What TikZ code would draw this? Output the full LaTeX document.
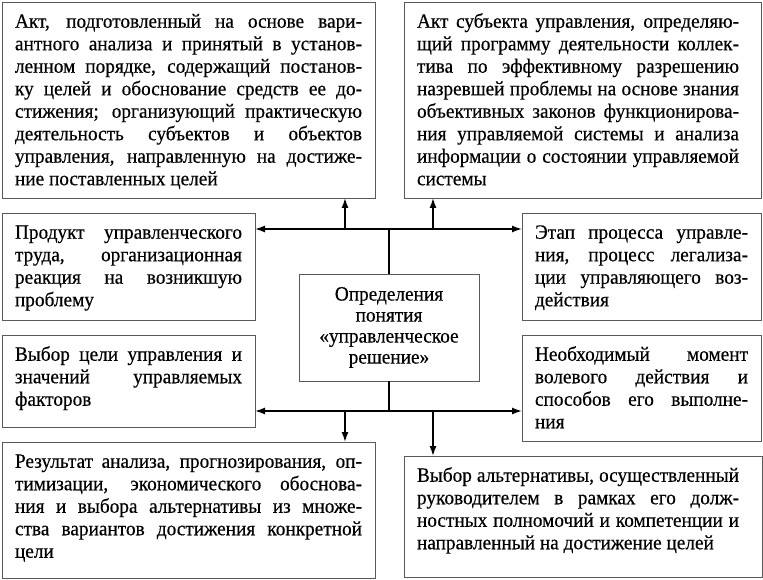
\documentclass[tikz,border=0pt]{standalone}
\usepackage{fontspec}
\setmainfont{Liberation Serif}[FakeStretch=0.95,FakeBold=0.4]
\usetikzlibrary{arrows.meta}
\newcommand{\jl}[1]{\makebox[\linewidth][s]{\strut #1}\\}

\begin{document}
\begin{tikzpicture}[x=1pt,y=-1pt,>={Latex[length=10pt,width=7pt]},
  box/.style={draw=black!65,line width=0.9pt,anchor=north west,inner xsep=13pt,
    inner ysep=10pt,outer sep=0pt,font=\fontsize{20.3}{22.5}\selectfont},
  link/.style={line width=1.4pt}]
\useasboundingbox (0,0) rectangle (763,580);

% upper definitions
\node[box] (tl) at (2,2) {\parbox[c][176pt][t]{347pt}{%
\jl{Акт, подготовленный на основе вари-}
\jl{антного анализа и принятый в установ-}
\jl{ленном порядке, содержащий постанов-}
\jl{ку целей и обоснование средств ее до-}
\jl{стижения; организующий практическую}
\jl{деятельность субъектов и объектов}
\jl{управления, направленную на достиже-}
\strut ние поставленных целей}};
\node[box] (tr) at (404,2) {\parbox[c][176pt][t]{322pt}{%
\jl{Акт субъекта управления, определяю-}
\jl{щий программу деятельности коллек-}
\jl{тива по эффективному разрешению}
\jl{назревшей проблемы на основе знания}
\jl{объективных законов функционирова-}
\jl{ния управляемой системы и анализа}
\jl{информации о состоянии управляемой}
\strut системы}\hspace*{9pt}};

% side definitions
\node[box] (ml1) at (2,213) {\parbox[c][87pt][t]{227pt}{%
\jl{Продукт управленческого}
\jl{труда, организационная}
\jl{реакция на возникшую}
\strut проблему}};
\node[box] (ml2) at (2,335) {\parbox[c][72pt][t]{227pt}{%
\jl{Выбор цели управления и}
\jl{значений управляемых}
\strut факторов}};
\node[box] (mr1) at (522,213) {\parbox[c][87pt][t]{213pt}{%
\jl{Этап процесса управле-}
\jl{ния, процесс легализа-}
\jl{ции управляющего воз-}
\strut действия}};
\node[box] (mr2) at (522,335) {\parbox[c][86pt][t]{213pt}{%
\jl{Необходимый момент}
\jl{волевого действия и}
\jl{способов его выполне-}
\strut ния}};

% lower definitions
\node[box] (bl) at (2,442) {\parbox[c][116pt][t]{347pt}{%
\jl{Результат анализа, прогнозирования, оп-}
\jl{тимизации, экономического обоснова-}
\jl{ния и выбора альтернативы из множе-}
\jl{ства вариантов достижения конкретной}
\strut цели}};
\node[box] (br) at (404,456) {\parbox[c][101pt][t]{322pt}{%
\jl{Выбор альтернативы, осуществленный}
\jl{руководителем в рамках его долж-}
\jl{ностных полномочий и компетенции и}
\strut направленный на достижение целей}\hspace*{10pt}};

% concept
\node[draw=black!65,line width=0.9pt,minimum width=180pt,minimum height=107pt,
  align=center,font=\fontsize{20.3}{21}\selectfont] (def) at (389,327.5)
  {Определения\\понятия\\«управленческое\\решение»};

% branch points
\coordinate (up) at (389,229);
\coordinate (down) at (389,411);
\coordinate (upl) at (345,229);
\coordinate (upr) at (433,229);
\coordinate (downl) at (345,411);
\coordinate (downr) at (433,411);

% connectors
\draw[link] (def.north) -- (up);
\draw[link,<->] (ml1.east |- up) -- (mr1.west |- up);
\draw[link,->] (upl) -- (upl |- tl.south);
\draw[link,->] (upr) -- (upr |- tr.south);
\draw[link] (def.south) -- (down);
\draw[link,<->] (ml2.east |- down) -- (mr2.west |- down);
\draw[link,->] (downl) -- (downl |- bl.north);
\draw[link,->] (downr) -- (downr |- br.north);

\end{tikzpicture}
\end{document}
